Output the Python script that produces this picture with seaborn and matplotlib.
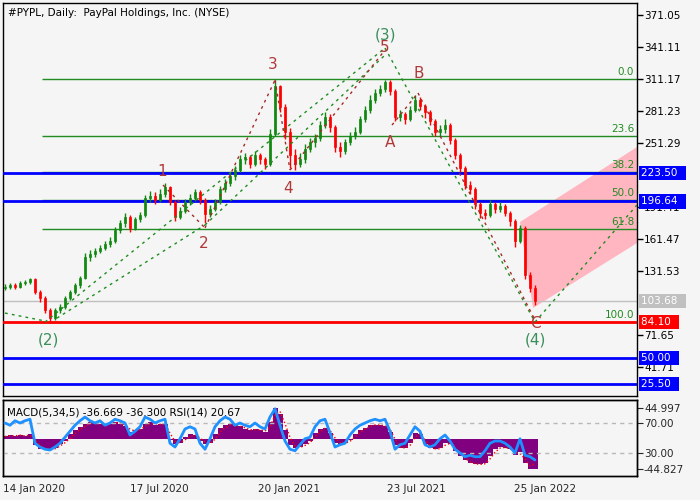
import matplotlib
matplotlib.use("Agg")
import matplotlib.pyplot as plt
import matplotlib.transforms as mtransforms
import numpy as np
import seaborn as sns

# weekly candles (bar index = trading day / 5)
close = [117, 118, 117, 120, 121, 124, 112, 106, 95, 88,
         95, 98, 106, 112, 118, 125, 145, 147, 150, 153,
         157, 160, 170, 176, 182, 172, 180, 184, 200, 202,
         198, 204, 210, 196, 182, 188, 196, 200, 205, 198,
         185, 190, 196, 208, 214, 220, 226, 236, 238, 232,
         240, 236, 232, 260, 305, 285, 262, 240, 232, 236,
         246, 252, 256, 268, 276, 266, 248, 244, 252, 258,
         262, 274, 282, 292, 298, 302, 308, 300, 276, 278,
         274, 282, 292, 286, 280, 272, 262, 264, 268, 254,
         240, 228, 212, 208, 194, 186, 184, 194, 190, 192,
         186, 178, 160, 172, 128, 116, 103.68]
first_open = 116
high = [119, 120, 120, 122, 123, 125, 125, 114, 108, 97,
        97, 101, 108, 114, 120, 127, 148, 151, 153, 156,
        160, 163, 173, 179, 186, 184, 182, 187, 203, 206,
        205, 208, 214, 211, 198, 191, 199, 204, 208, 207,
        200, 193, 199, 211, 218, 224, 230, 240, 242, 240,
        244, 242, 238, 264, 310, 306, 288, 265, 246, 242,
        250, 256, 260, 272, 280, 278, 268, 252, 255, 262,
        266, 277, 286, 296, 302, 306, 310, 310, 302, 282,
        280, 286, 296, 294, 288, 282, 274, 268, 274, 270,
        256, 242, 230, 216, 210, 196, 190, 198, 196, 196,
        194, 188, 180, 175, 174, 131, 118]
low = [114, 115, 115, 116, 118, 119, 110, 103, 92, 83,
       86, 92, 96, 104, 110, 116, 124, 141, 145, 148,
       151, 154, 158, 167, 173, 168, 170, 177, 182, 196,
       194, 196, 201, 193, 178, 180, 186, 193, 197, 194,
       176, 182, 188, 194, 205, 211, 217, 224, 232, 228,
       230, 232, 227, 230, 258, 280, 255, 228, 226, 229,
       233, 243, 248, 253, 265, 262, 243, 238, 241, 249,
       255, 260, 271, 279, 289, 295, 299, 296, 272, 272,
       269, 272, 280, 282, 275, 268, 258, 258, 261, 250,
       236, 224, 208, 204, 190, 181, 180, 182, 186, 187,
       183, 174, 154, 158, 124, 112, 100]

macd_main = [4, 5, 4, 5, 4, 6, -10, -16, -17, -16,
             -14, -8, -3, 6, 12, 17, 22, 24, 23, 22,
             20, 22, 24, 22, 18, 10, 12, 14, 22, 24,
             20, 22, 22, -2, -8, -6, 2, 6, 5, -3,
             -8, -6, 6, 15, 20, 22, 18, 18, 14, 12,
             14, 12, 10, 24, 45, 36, 12, -10, -14, -12,
             -8, -4, 8, 14, 16, 8, -6, -8, -6, -2,
             6, 12, 16, 20, 20, 20, 18, 10, -10, -14,
             -14, -6, 8, 6, -8, -14, -16, -14, -6, -8,
             -18, -26, -32, -36, -38, -38, -36, -26, -16, -12,
             -14, -16, -24, -20, -36, -44, -44]
macd_signal = [3, 4, 4, 5, 4, 5, -2, -10, -15, -16,
               -15, -11, -6, 0, 7, 13, 18, 22, 23, 22,
               21, 21, 23, 23, 20, 14, 11, 13, 18, 22,
               22, 21, 22, 8, -4, -6, -2, 3, 5, 1,
               -5, -7, -1, 9, 16, 20, 20, 18, 16, 13,
               13, 13, 11, 17, 35, 40, 22, 2, -11, -13,
               -10, -6, 2, 10, 15, 12, 1, -6, -7, -4,
               2, 9, 14, 18, 20, 20, 19, 14, -1, -12,
               -14, -10, 2, 7, -2, -11, -15, -15, -10, -7,
               -13, -22, -29, -34, -37, -38, -37, -30, -20, -14,
               -13, -15, -20, -22, -30, -40, -36.3]
rsi_values = [70, 67, 73, 70, 73, 75, 43, 38, 35, 34,
              38, 43, 51, 59, 67, 73, 78, 73, 70, 73,
              67, 70, 75, 73, 70, 54, 59, 65, 78, 75,
              70, 73, 75, 43, 38, 49, 62, 65, 62, 43,
              35, 49, 65, 73, 78, 75, 67, 70, 67, 65,
              70, 65, 62, 78, 89, 67, 46, 35, 33, 41,
              49, 51, 65, 73, 75, 57, 38, 41, 43, 54,
              62, 67, 70, 73, 75, 73, 75, 59, 35, 41,
              43, 54, 65, 59, 41, 38, 41, 49, 54, 46,
              35, 30, 25, 27, 25, 25, 33, 43, 46, 46,
              43, 38, 30, 49, 27, 25, 20.67]

date_ticks = [0, 127, 255, 384, 511]
date_labels = ["14 Jan 2020", "17 Jul 2020", "20 Jan 2021", "23 Jul 2021", "25 Jan 2022"]
price_ticks = [371.05, 341.11, 311.17, 281.23, 251.29, 191.41, 161.47, 131.53, 71.65, 41.71]

fib_levels = [311.17, 257.58, 224.43, 197.64, 170.84, 84.10]
fib_labels = ["0.0", "23.6", "38.2", "50.0", "61.8", "100.0"]
blue_levels = [223.50, 196.64, 50.00, 25.50]
stop_level = 84.10
last_price = 103.68

# elliott wave segments (bar index, price)
green_wave_x = [[2, 42], [42, 382], [54, 202], [202, 382], [382, 532], [532, 634]]
green_wave_y = [[92.2, 84.8], [83.8, 340.2], [87.5, 174.6], [174.6, 333.6], [340.2, 83.8], [83.8, 193.3]]
red_wave_x = [[160, 202], [202, 272], [272, 287], [287, 382], [389, 415], [415, 532]]
red_wave_y = [[212.0, 171.8], [171.8, 310.2], [310.2, 226.0], [226.0, 338.3], [268.1, 298.1], [298.1, 85.7]]
wave_green_labels = ["(2)", "(3)", "(4)"]
wave_green_x = [45, 383, 532]
wave_green_y = [67.0, 352.3, 67.0]
wave_red_labels = ["1", "2", "3", "4", "5", "A", "B", "C"]
wave_red_x = [159, 201, 270, 285, 382, 387, 416, 532]
wave_red_y = [224.2, 157.7, 324.3, 209.2, 340.2, 252.2, 316.8, 82.9]

target_x = [517, 634, 634, 530]
target_y = [177.4, 247.5, 157.7, 96.9]

BG = "#F5F5F5"
UP = "#118811"
DOWN = "#FF0000"
FIB = "#228B22"

sns.set_style("white")
plt.rcParams["font.family"] = ["DejaVu Sans"]

fig = plt.figure(figsize=(7, 5), dpi=100, facecolor=BG)
ax = fig.add_axes([3 / 700, 104 / 500, 634 / 700, 393 / 500], facecolor=BG)
ax_ind = fig.add_axes([3 / 700, 24 / 500, 634 / 700, 76 / 500], facecolor=BG)

xs = np.arange(len(close)) * 5 + 2
opens = np.array([first_open] + close[:-1], dtype=float)
closes = np.array(close, dtype=float)
colors = [UP if c >= o else DOWN for o, c in zip(opens, closes)]

# target zone
ax.fill(target_x, target_y, color="#FFB6C1", lw=0, zorder=1)

# horizontal levels
ax.hlines(fib_levels, 39, 634, color=FIB, lw=1, zorder=2)
for lvl, lab in zip(fib_levels, fib_labels):
    ax.text(631, lvl + 2, lab, color=FIB, fontsize=7.5, ha="right", va="bottom", zorder=6)
ax.axhline(last_price, color="#C0C0C0", lw=1, zorder=2)
for lvl in blue_levels:
    ax.axhline(lvl, color="#0000FF", lw=2, zorder=3)
ax.axhline(stop_level, color="#FF0000", lw=2, zorder=3)

# candles
ax.vlines(xs, low, high, colors=colors, lw=1, zorder=4)
ax.bar(xs, closes - opens, bottom=opens, width=2.6, color=colors,
       edgecolor=colors, linewidth=0.5, zorder=4)

# wave lines
for wx, wy in zip(green_wave_x, green_wave_y):
    ax.plot(wx, wy, color="#1E8C1E", lw=1, ls=(0, (2, 3)), zorder=5)
for wx, wy in zip(red_wave_x, red_wave_y):
    ax.plot(wx, wy, color="#A52A2A", lw=1, ls=(0, (2, 3)), zorder=5)
for lab, wx, wy in zip(wave_green_labels, wave_green_x, wave_green_y):
    ax.text(wx, wy, lab, color="#3A8F5A", fontsize=11, ha="center", va="center", zorder=7)
for lab, wx, wy in zip(wave_red_labels, wave_red_x, wave_red_y):
    ax.text(wx, wy, lab, color="#B03A3A", fontsize=11, ha="center", va="center", zorder=7)

ax.set_xlim(0, 634)
ax.set_ylim(14.6, 382.3)
ax.set_xticks([])
ax.yaxis.tick_right()
ax.set_yticks(price_ticks)
ax.set_yticklabels([f"{t:.2f}" for t in price_ticks])
ax.tick_params(axis="y", direction="out", length=4, width=1, labelsize=7.5, pad=1, colors="black")
for s in ax.spines.values():
    s.set_color("black")
    s.set_linewidth(1)

trans = mtransforms.blended_transform_factory(ax.transAxes, ax.transData)
boxes = [(223.50, "#0000FF"), (196.64, "#0000FF"), (last_price, "#C0C0C0"),
         (stop_level, "#FF0000"), (50.00, "#0000FF"), (25.50, "#0000FF")]
for lvl, col in boxes:
    ax.text(1.006, lvl, f"{lvl:.2f}  ", transform=trans, color="white", fontsize=7.5,
            ha="left", va="center", clip_on=False, zorder=10,
            bbox=dict(facecolor=col, edgecolor="none", pad=1.5))

ax.text(0.008, 0.988, "#PYPL, Daily:  PayPal Holdings, Inc. (NYSE)", transform=ax.transAxes,
        fontsize=7.5, ha="left", va="top", color="black")

# indicator panel: MACD histogram + signal, RSI on twin axis
ax_ind.bar(xs, macd_main, width=5, color="#800080", linewidth=0, zorder=2)
sns.lineplot(x=xs, y=macd_signal, ax=ax_ind, color="#FF0000", lw=1, linestyle=":", zorder=3)
ax_ind.set_ylim(-55.0, 56.7)
ax_ind.set_xlim(0, 634)

ax_rsi = ax_ind.twinx()
ax_rsi.axhline(70, color="#B8B8B8", lw=1, ls=(0, (3, 3)), zorder=1)
ax_rsi.axhline(30, color="#B8B8B8", lw=1, ls=(0, (3, 3)), zorder=1)
sns.lineplot(x=xs, y=rsi_values, ax=ax_rsi, color="#1E90FF", lw=2, zorder=4)
ax_rsi.set_ylim(-0.7, 100.7)
ax_rsi.set_yticks([70, 30])
ax_rsi.set_yticklabels(["70.00", "30.00"])
ax_rsi.tick_params(axis="y", direction="out", length=4, labelsize=7.5, pad=1)
ax_rsi.set_ylabel("")

ax_ind.yaxis.tick_right()
ax_ind.set_yticks([44.997, -44.827])
ax_ind.set_yticklabels(["44.997", "-44.827"])
ax_ind.tick_params(axis="y", direction="out", length=4, labelsize=7.5, pad=1)
ax_ind.set_ylabel("")

ax_ind.set_xticks(date_ticks)
ax_ind.set_xticklabels(date_labels, ha="left")
ax_ind.tick_params(axis="x", direction="out", length=4, labelsize=7.5, pad=2)
for a in (ax_ind, ax_rsi):
    for s in a.spines.values():
        s.set_color("black")
        s.set_linewidth(1)

ax_ind.text(0.006, 0.9, "MACD(5,34,5) -36.669 -36.300 RSI(14) 20.67", transform=ax_ind.transAxes,
            fontsize=7.5, ha="left", va="top", color="black", zorder=10)

fig.savefig("out.png", dpi=100, facecolor=BG)
